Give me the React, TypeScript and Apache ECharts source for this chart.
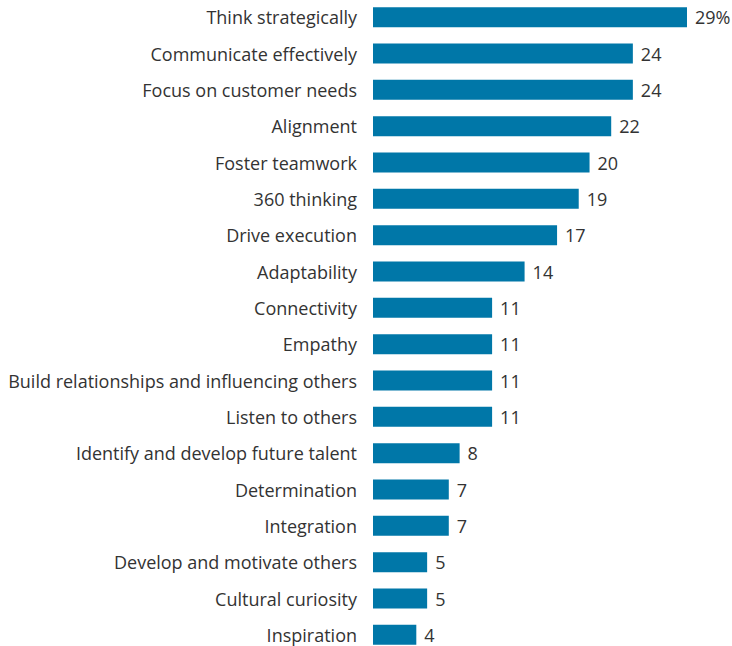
import React, { useEffect, useRef } from "react";
import * as echarts from "echarts";

const categories = [
  "Think strategically",
  "Communicate effectively",
  "Focus on customer needs",
  "Alignment",
  "Foster teamwork",
  "360 thinking",
  "Drive execution",
  "Adaptability",
  "Connectivity",
  "Empathy",
  "Build relationships and influencing others",
  "Listen to others",
  "Identify and develop future talent",
  "Determination",
  "Integration",
  "Develop and motivate others",
  "Cultural curiosity",
  "Inspiration",
];

const values = [29, 24, 24, 22, 20, 19, 17, 14, 11, 11, 11, 11, 8, 7, 7, 5, 5, 4];

export default function App() {
  const ref = useRef<HTMLDivElement>(null);
  useEffect(() => {
    if (!ref.current) return;
    const chart = echarts.init(ref.current, undefined, { renderer: "svg" });
    const font = "'Open Sans', 'Noto Sans', sans-serif";
    chart.setOption({
      animation: false,
      grid: {
        left: 373,
        top: -1,
        width: 314,
        height: 654,
        containLabel: false,
        outerBoundsMode: "none",
      },
      xAxis: {
        type: "value",
        min: 0,
        max: 29,
        show: false,
      },
      yAxis: {
        type: "category",
        data: categories,
        inverse: true,
        axisLine: { show: false },
        axisTick: { show: false },
        axisLabel: {
          fontSize: 18,
          color: "#333333",
          fontFamily: font,
          margin: 16,
        },
      },
      series: [
        {
          type: "bar",
          data: values,
          barWidth: 20,
          itemStyle: { color: "#0077a8" },
          label: {
            show: true,
            position: "right",
            distance: 8,
            fontSize: 18,
            color: "#333333",
            fontFamily: font,
            formatter: (p: any) => (p.dataIndex === 0 ? p.value + "%" : String(p.value)),
          },
        },
      ],
    });
    return () => chart.dispose();
  }, []);
  return (
    <div
      ref={ref}
      style={{ position: "absolute", left: 0, top: 0, width: 732, height: 646, background: "#fff" }}
    />
  );
}
